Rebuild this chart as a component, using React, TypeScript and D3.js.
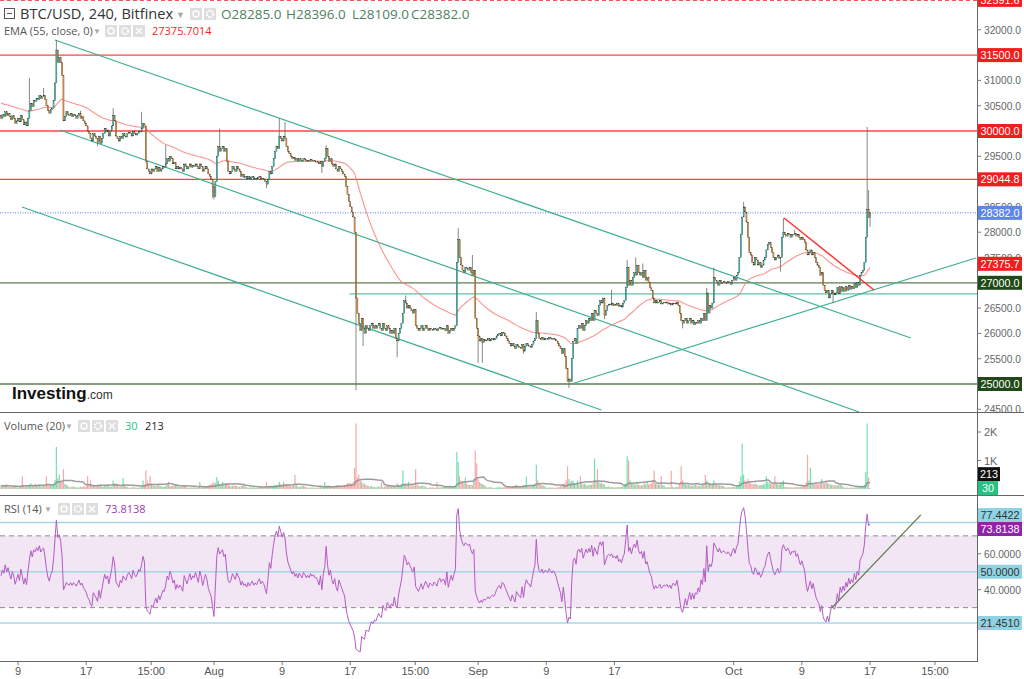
import React from 'react';
import * as d3 from 'd3';

// ---------- DATA (BTC/USD 4h, Bitfinex, 7 Jul – 17 Oct) ----------
// one row per day: closes of the 00,04,08,12,16,20 candles
const closesByDay: number[][] = [
  [30250, 30320, 30280, 30380, 30300, 30350],
  [30280, 30220, 30300, 30250, 30150, 30200],
  [30250, 30180, 30300, 30220, 30120, 30180],
  [30100, 30250, 30400, 30550, 30480, 30600],
  [30580, 30650, 30620, 30700, 30640, 30680],
  [30700, 30620, 30500, 30400, 30350, 30420],
  [30450, 30600, 30950, 31600, 31350, 31450],
  [31350, 31100, 30200, 30280, 30380, 30320],
  [30300, 30350, 30280, 30330, 30300, 30250],
  [30300, 30350, 30250, 30280, 30200, 30150],
  [30100, 30000, 29950, 29850, 29800, 29950],
  [29900, 29850, 29780, 29900, 29750, 29850],
  [29950, 30050, 29980, 30020, 29900, 30000],
  [30100, 30300, 30200, 29900, 29850, 29800],
  [29900, 29850, 29950, 29900, 29880, 29950],
  [29980, 29950, 29900, 30000, 29950, 29920],
  [29950, 30000, 29980, 30050, 30150, 30100],
  [29400, 29250, 29200, 29150, 29250, 29200],
  [29250, 29300, 29200, 29280, 29200, 29250],
  [29300, 29280, 29350, 29450, 29400, 29500],
  [29450, 29350, 29380, 29250, 29300, 29250],
  [29280, 29250, 29200, 29350, 29300, 29250],
  [29300, 29350, 29280, 29320, 29300, 29350],
  [29300, 29250, 29350, 29300, 29200, 29250],
  [29300, 29250, 29150, 29100, 29050, 28900],
  [28700, 29000, 29500, 29700, 29600, 29650],
  [29700, 29600, 29650, 29400, 29200, 29150],
  [29200, 29300, 29250, 29200, 29300, 29250],
  [29200, 29100, 29150, 29080, 29100, 29050],
  [29100, 29050, 29080, 29100, 29050, 29070],
  [29050, 29080, 29100, 29050, 29070, 29050],
  [29000, 28950, 29050, 29200, 29150, 29300],
  [29450, 29600, 29700, 29650, 29900, 29850],
  [29800, 29900, 29850, 29700, 29600, 29550],
  [29500, 29450, 29480, 29420, 29450, 29400],
  [29450, 29420, 29400, 29450, 29430, 29400],
  [29420, 29400, 29430, 29410, 29420, 29400],
  [29400, 29380, 29350, 29400, 29300, 29400],
  [29450, 29650, 29500, 29400, 29450, 29350],
  [29300, 29350, 29250, 29200, 29300, 29250],
  [29200, 29150, 29100, 28900, 28750, 28600],
  [28500, 28400, 28300, 28000, 26700, 26400],
  [26200, 26050, 26300, 26100, 26000, 26150],
  [26100, 26050, 26150, 26200, 26100, 26150],
  [26100, 26150, 26200, 26100, 26050, 26200],
  [26100, 26050, 26150, 26100, 26000, 26050],
  [26000, 26100, 25900, 25850, 26000, 26100],
  [26200, 26400, 26650, 26600, 26500, 26550],
  [26500, 26450, 26400, 26480, 26150, 26100],
  [26050, 26100, 26150, 26050, 26100, 26150],
  [26100, 26050, 26100, 26080, 26060, 26100],
  [26080, 26050, 26100, 26120, 26080, 26100],
  [26100, 26050, 26150, 26000, 26050, 26100],
  [26050, 26100, 26150, 27400, 27850, 27500],
  [27350, 27250, 27200, 27300, 27280, 27250],
  [27300, 27200, 27150, 27250, 26300, 26100],
  [25950, 25850, 25900, 25820, 25880, 25850],
  [25870, 25900, 25850, 25880, 25900, 25870],
  [25900, 25950, 25980, 26000, 25950, 26020],
  [26000, 25950, 25900, 25850, 25800, 25750],
  [25800, 25750, 25700, 25780, 25750, 25720],
  [25700, 25780, 25650, 25750, 25800, 25760],
  [25750, 25720, 25780, 25850, 25900, 26250],
  [26000, 25900, 25880, 25920, 25870, 25900],
  [25900, 25880, 25920, 25900, 25880, 25900],
  [25880, 25850, 25800, 25750, 25700, 25600],
  [25700, 25550, 25300, 25050, 25100, 25050],
  [25500, 25850, 25900, 25800, 26100, 26150],
  [26100, 26200, 26050, 26150, 26250, 26200],
  [26300, 26250, 26400, 26250, 26450, 26400],
  [26350, 26550, 26650, 26600, 26700, 26350],
  [26450, 26550, 26580, 26560, 26600, 26550],
  [26580, 26550, 26600, 26530, 26560, 26520],
  [26600, 26650, 26900, 27300, 26950, 27050],
  [26950, 27100, 27200, 27150, 27350, 27200],
  [27150, 27200, 27100, 27250, 27050, 27100],
  [27000, 26900, 26850, 26700, 26600, 26650],
  [26600, 26620, 26650, 26580, 26600, 26620],
  [26600, 26620, 26580, 26600, 26560, 26600],
  [26600, 26580, 26620, 26550, 26400, 26250],
  [26200, 26250, 26300, 26200, 26250, 26300],
  [26200, 26250, 26170, 26220, 26200, 26250],
  [26200, 26300, 26250, 26400, 26250, 26800],
  [26400, 26550, 26500, 26600, 27100, 27050],
  [27000, 26950, 27050, 26980, 27000, 27020],
  [27000, 26980, 27020, 27000, 26970, 27050],
  [27100, 27050, 27150, 27200, 27500, 27950],
  [28300, 28500, 28400, 28200, 27900, 27600],
  [27550, 27400, 27350, 27500, 27450, 27350],
  [27400, 27300, 27350, 27450, 27500, 27650],
  [27750, 27800, 27700, 27600, 27500, 27450],
  [27500, 27550, 27480, 27500, 27900, 28000],
  [27950, 27920, 27980, 27950, 27900, 27960],
  [27950, 27980, 27920, 27960, 27900, 27850],
  [27900, 27850, 27800, 27650, 27550, 27600],
  [27650, 27550, 27600, 27500, 27400, 27350],
  [27300, 27150, 27200, 26950, 26850, 26800],
  [26850, 26700, 26780, 26850, 26800, 26760],
  [26800, 26900, 26780, 26920, 26830, 26900],
  [26830, 26920, 26850, 26950, 26870, 26920],
  [26880, 26980, 26900, 27000, 26950, 27150],
  [27200, 27250, 27400, 27900, 28450, 28285],
  [28382],
];
const firstOpen = 30300;

// notable wicks: [candle index, price]
const wickHighs: [number, number][] = [
  [20, 31050], [30, 30850], [39, 31800], [56, 30400], [79, 30450], [99, 30380],
  [116, 29720], [154, 30050], [196, 30250], [200, 30180], [229, 29720],
  [285, 26750], [322, 28080], [332, 27550], [377, 26420], [430, 26860],
  [441, 27450], [447, 27500], [452, 27380], [497, 26900], [502, 27300],
  [523, 28600], [551, 28280], [559, 28050], [610, 30080], [611, 28830], [612, 28396],
];
const wickLows: [number, number][] = [
  [68, 29700], [149, 28680], [150, 28650], [187, 28870], [226, 29170],
  [250, 24880], [255, 25750], [279, 25530], [336, 25420], [339, 25420],
  [368, 25600], [400, 24920], [425, 26280], [480, 26100], [549, 27220],
  [586, 26600], [612, 28109],
];

const volumesByDay: number[][] = [
  [120, 90, 140, 110, 160, 80], [70, 60, 90, 80, 110, 60], [50, 70, 90, 450, 120, 80],
  [90, 110, 150, 200, 140, 100], [180, 120, 130, 160, 110, 90], [100, 130, 450, 170, 140, 120],
  [150, 180, 320, 1480, 380, 500], [260, 240, 700, 180, 150, 120], [70, 60, 80, 90, 70, 60],
  [50, 60, 80, 70, 90, 80], [120, 450, 160, 300, 140, 110], [100, 90, 150, 120, 160, 90],
  [80, 110, 130, 140, 110, 70], [90, 300, 180, 200, 150, 90], [80, 100, 380, 130, 110, 70],
  [50, 40, 60, 70, 60, 50], [40, 50, 60, 80, 300, 150], [650, 300, 200, 450, 180, 120],
  [110, 90, 140, 120, 130, 80], [90, 80, 110, 150, 250, 100], [100, 120, 110, 160, 130, 80],
  [70, 80, 90, 140, 100, 60], [40, 50, 60, 50, 70, 50], [40, 50, 250, 60, 80, 60],
  [90, 100, 120, 150, 170, 200], [250, 200, 420, 300, 180, 140], [250, 160, 140, 200, 180, 110],
  [90, 100, 130, 120, 110, 80], [80, 90, 120, 140, 100, 70], [40, 50, 60, 50, 60, 40],
  [40, 50, 60, 70, 50, 60], [80, 250, 90, 110, 120, 100], [130, 150, 140, 160, 250, 180],
  [160, 250, 150, 180, 140, 120], [110, 100, 120, 500, 150, 90], [80, 90, 100, 110, 90, 70],
  [40, 50, 50, 60, 50, 40], [40, 50, 60, 70, 90, 60], [250, 120, 110, 130, 100, 80],
  [90, 100, 120, 140, 110, 90], [100, 120, 140, 160, 200, 220], [200, 180, 250, 750, 2300, 400],
  [500, 300, 250, 200, 180, 150], [120, 100, 90, 110, 80, 70], [60, 70, 80, 90, 250, 60],
  [90, 100, 120, 110, 130, 90], [100, 110, 90, 200, 150, 120], [180, 650, 200, 170, 150, 250],
  [140, 120, 150, 110, 700, 200], [120, 100, 110, 130, 90, 80], [50, 40, 60, 50, 60, 40],
  [40, 250, 60, 50, 70, 60], [80, 90, 110, 100, 120, 90], [100, 90, 120, 1300, 950, 450],
  [300, 250, 200, 400, 180, 150], [140, 150, 130, 350, 1350, 900], [350, 250, 200, 180, 150, 120],
  [60, 50, 70, 60, 50, 40], [40, 50, 60, 70, 60, 50], [60, 70, 80, 90, 100, 80],
  [100, 110, 130, 150, 120, 90], [100, 120, 150, 130, 440, 110], [100, 90, 110, 140, 180, 850],
  [300, 200, 150, 130, 120, 100], [50, 40, 60, 50, 40, 50], [40, 50, 60, 70, 90, 150],
  [160, 200, 300, 800, 350, 250], [300, 280, 200, 180, 300, 150], [450, 200, 160, 180, 150, 120],
  [140, 160, 150, 200, 1070, 250], [700, 250, 200, 220, 180, 150], [80, 70, 90, 60, 70, 60],
  [50, 60, 70, 60, 80, 70], [100, 120, 200, 1150, 1000, 300], [200, 180, 160, 150, 250, 140],
  [130, 120, 140, 200, 160, 250], [160, 180, 200, 300, 640, 200], [180, 150, 160, 450, 130, 110],
  [60, 50, 70, 60, 640, 80], [50, 60, 70, 90, 200, 800], [300, 180, 160, 140, 150, 120],
  [120, 110, 130, 150, 120, 100], [100, 120, 140, 160, 500, 300], [200, 180, 160, 150, 300, 200],
  [150, 140, 130, 120, 110, 100], [60, 50, 70, 60, 50, 80], [70, 80, 90, 120, 250, 450],
  [1600, 500, 300, 250, 350, 280], [200, 180, 160, 200, 170, 140], [130, 140, 150, 160, 180, 450],
  [250, 200, 180, 160, 170, 450], [180, 160, 150, 170, 250, 300], [80, 70, 60, 70, 60, 50],
  [50, 60, 70, 60, 80, 70], [100, 120, 140, 250, 1200, 300], [750, 200, 180, 160, 200, 150],
  [180, 200, 350, 220, 200, 250], [200, 180, 160, 150, 140, 120], [130, 120, 140, 160, 130, 100],
  [40, 50, 50, 40, 40, 50], [40, 50, 60, 60, 70, 80], [90, 110, 150, 600, 2300, 400],
  [30],
];

const emaLength = 55;
const emaSeed = 30560;
const rsiLength = 14;
const rsiSeedGain = 40;
const rsiSeedLoss = 40;
const volSmaLength = 20;

// horizontal levels
const redLevels = [31500, 30000, 29044.8];
const greenLevels = [27000, 25000];
const topDashedLevel = 32591.6;
const lastPrice = 28382;
const emaLast = 27375.7;
const tealLevel = { from: 245.5, price: 26780 };
// drawings: [candle index, price]
const channelLines: [number, number][][] = [
  [[38, 31798], [640.8, 25909]],
  [[41.5, 30020], [604.3, 24447]],
  [[14.8, 28498], [422.8, 24486]],
];
const supportLine: [number, number][] = [[401.7, 25000], [686.5, 27490]];
const redTrend: [number, number][] = [[551.5, 28281], [614.8, 26858]];
const rsiTrend: [number, number][] = [[585.3, 30], [647.8, 81.7]];

const priceTicks = d3.range(24500, 32001, 500);
const volTicks: [number, string][] = [[2000, '2K'], [1000, '1K']];
const volLast = 30;
const volSmaLast = 213;
const rsiLevels = { upper: 77.4422, mid: 50, lower: 21.451, ob: 70, os: 30 };
const rsiTicks = [60, 40];
const rsiLast = 73.8138;
// time axis labels: [candle index, text]
const timeLabels: [number, string][] = [
  [12, '9'], [60, '17'], [105.75, '15:00'], [150, 'Aug'], [198, '9'], [246, '17'],
  [291.75, '15:00'], [336, 'Sep'], [384, '9'], [432, '17'], [516, 'Oct'], [564, '9'],
  [612, '17'], [657.75, '15:00'],
];

// ---------- CHART ----------
const W = 1024;
const H = 679;
const R = 977; // right edge of panes
const FONT = "'Liberation Sans', Arial, sans-serif";
const UI = "'Open Sans', 'Noto Sans', sans-serif";
const AX = 10.2;

const Icons = ({ x0, y0, n }: { x0: number; y0: number; n: number }) => {
  const items = [];
  for (let k = 0; k < n; k++) {
    const x = x0 + k * 14;
    items.push(
      <g key={k}>
        <rect x={x} y={y0} width={12} height={12} fill="#dedede" />
        {k === 0 && <circle cx={x + 6} cy={y0 + 6} r={3} fill="none" stroke="#fff" strokeWidth={1.4} />}
        {k === 1 && <circle cx={x + 6} cy={y0 + 6} r={3.2} fill="none" stroke="#fff" strokeWidth={2} strokeDasharray="1.6,1" />}
        {k === 2 && (
          <path d={`M${x + 3},${y0 + 3}L${x + 9},${y0 + 9}M${x + 9},${y0 + 3}L${x + 3},${y0 + 9}`} stroke="#fff" strokeWidth={1.4} />
        )}
      </g>
    );
  }
  return <g>{items}</g>;
};

const Tag = ({ y, text, bg, fg = '#fff', w = 44 }: { y: number; text: string; bg: string; fg?: string; w?: number }) => (
  <g>
    <rect x={R + 1} y={y - 7} width={w} height={14} fill={bg} />
    <text x={R + 1 + w / 2} y={y + 4} textAnchor="middle" fontFamily={FONT} fontSize={AX + 0.6} fill={fg}>{text}</text>
  </g>
);

export default function App() {
  const closes = closesByDay.flat();
  const volumes = volumesByDay.flat();
  const n = closes.length;
  const opens = closes.map((c, i) => (i === 0 ? firstOpen : closes[i - 1]));
  const hiMap = new Map(wickHighs);
  const loMap = new Map(wickLows);
  const candles = closes.map((c, i) => {
    const o = opens[i];
    const h = Math.max(o, c, hiMap.has(i) ? (hiMap.get(i) as number) : -Infinity);
    const l = Math.min(o, c, loMap.has(i) ? (loMap.get(i) as number) : Infinity);
    return { i, o, h, l, c, up: c >= o };
  });

  const alpha = 2 / (emaLength + 1);
  let e = emaSeed;
  const ema = closes.map((c) => (e = e + alpha * (c - e)));

  let ag = rsiSeedGain;
  let al = rsiSeedLoss;
  const rsi = closes.map((c, i) => {
    const ch = c - opens[i];
    ag = (ag * (rsiLength - 1) + Math.max(ch, 0)) / rsiLength;
    al = (al * (rsiLength - 1) + Math.max(-ch, 0)) / rsiLength;
    return 100 - 100 / (1 + ag / al);
  });
  const vsma = volumes.map((_, i) => d3.mean(volumes.slice(Math.max(0, i - volSmaLength + 1), i + 1)) as number);

  const x = d3.scaleLinear().domain([0, n - 1]).range([1, 870]);
  const yP = d3.scaleLinear().domain([25000, 30000]).range([384, 131]);
  const yV = d3.scaleLinear().domain([0, 2000]).range([489, 432]);
  const yR = d3.scaleLinear().domain([rsiLevels.lower, rsiLevels.upper]).range([623, 522.5]);

  const emaPath = d3.line<number>().x((_, i) => x(i)).y((v) => yP(v))(ema) || '';
  const rsiPath = d3.line<number>().x((_, i) => x(i)).y((v) => yR(v))(rsi) || '';
  const vsmaPath = d3.line<number>().x((_, i) => x(i)).y((v) => yV(v))(vsma) || '';
  const seg = (pts: [number, number][], ys: (v: number) => number) =>
    `M${x(pts[0][0])},${ys(pts[0][1])}L${x(pts[1][0])},${ys(pts[1][1])}`;

  const bw = 1.15;
  const upFill = '#35c2b3';
  const dnFill = '#ec8a2c';
  // tick labels fully covered by a price tag are not drawn
  const tagPrices = [topDashedLevel, ...redLevels, ...greenLevels, lastPrice, emaLast];
  const coveredTick = (p: number) => tagPrices.some((t) => Math.abs(yP(t) - yP(p)) < 5);

  // label collision avoidance like the platform does
  const volLastY = yV(volLast);
  const volSmaY = Math.min(yV(volSmaLast), volLastY - 14);
  const rsiLastY = yR(rsiLast);
  const rsiUpperY = Math.min(yR(rsiLevels.upper), rsiLastY - 14);

  return (
    <svg width={W} height={H} style={{ position: 'absolute', left: 0, top: 0, background: '#fff' }}>
      <defs>
        <clipPath id="cMain"><rect x={0} y={0} width={R} height={412} /></clipPath>
        <clipPath id="cVol"><rect x={0} y={413} width={R} height={82} /></clipPath>
        <clipPath id="cRsi"><rect x={0} y={496} width={R} height={166} /></clipPath>
        <clipPath id="cAxis"><rect x={R} y={0} width={W - R} height={412} /></clipPath>
      </defs>
      <rect x={0} y={0} width={W} height={H} fill="#fff" />

      {/* ===== main pane ===== */}
      <g clipPath="url(#cMain)">
        <line x1={0} x2={R} y1={yP(topDashedLevel)} y2={yP(topDashedLevel)} stroke="#f21d1d" strokeWidth={1.6} strokeDasharray="4,3" />
        {redLevels.map((p) => (
          <line key={p} x1={0} x2={R} y1={yP(p)} y2={yP(p)} stroke="#f44" strokeWidth={1.3} />
        ))}
        {greenLevels.map((p) => (
          <line key={p} x1={0} x2={R} y1={yP(p)} y2={yP(p)} stroke="#5f7d52" strokeWidth={1.3} />
        ))}
        <line x1={x(tealLevel.from)} x2={R} y1={yP(tealLevel.price)} y2={yP(tealLevel.price)} stroke="#5cc0ac" strokeWidth={1.3} />
        <line x1={0} x2={R} y1={yP(lastPrice)} y2={yP(lastPrice)} stroke="#5a7be0" strokeWidth={1} strokeDasharray="1,1.5" />
        {channelLines.map((l, k) => (
          <path key={k} d={seg(l, yP)} stroke="#3fae95" strokeWidth={1.2} fill="none" />
        ))}
        <path d={seg(supportLine, yP)} stroke="#3fae95" strokeWidth={1.2} fill="none" />
        <path d={emaPath} fill="none" stroke="#f7817c" strokeWidth={1.1} opacity={0.85} />
        {candles.map((d) => (
          <line key={'w' + d.i} x1={x(d.i)} x2={x(d.i)} y1={yP(d.h)} y2={yP(d.l)} stroke="#5e6e62" strokeWidth={0.8} />
        ))}
        {candles.map((d) => {
          const y0 = yP(Math.max(d.o, d.c));
          const y1 = yP(Math.min(d.o, d.c));
          return (
            <rect key={'b' + d.i} x={x(d.i) - bw / 2} y={y0} width={bw} height={Math.max(0.9, y1 - y0)}
              fill={d.up ? upFill : dnFill} stroke="#3b3b3b" strokeWidth={0.25} />
          );
        })}
        <path d={seg(redTrend, yP)} stroke="#f33" strokeWidth={1.5} fill="none" />
        <text x={12} y={399} fontFamily="'Liberation Sans', Arial, sans-serif" fontWeight="bold" fontSize={17} fill="#111">
          Investing<tspan fontSize={12} fontWeight="normal" fill="#333">.com</tspan>
        </text>
      </g>

      {/* header legends */}
      <rect x={4.5} y={8.5} width={10} height={10} fill="none" stroke="#555" />
      <line x1={7} x2={12} y1={13.5} y2={13.5} stroke="#555" />
      <text x={20} y={19} fontFamily={UI} fontSize={14.6} fill="#333">BTC/USD, 240, Bitfinex</text>
      <text x={176} y={18} fontFamily={UI} fontSize={9} fill="#aaa">▼</text>
      <Icons x0={190} y0={8} n={2} />
      <text x={221} y={19} fontFamily={UI} fontSize={13.5} fill="#4f7f62">O28285.0</text>
      <text x={286} y={19} fontFamily={UI} fontSize={13.5} fill="#4f7f62">H28396.0</text>
      <text x={352} y={19} fontFamily={UI} fontSize={13.5} fill="#4f7f62">L28109.0</text>
      <text x={411} y={19} fontFamily={UI} fontSize={13.5} fill="#4f7f62">C28382.0</text>
      <text x={4} y={35} fontFamily={UI} fontSize={11} fill="#555">EMA (55, close, 0)</text>
      <text x={93} y={34} fontFamily={UI} fontSize={8} fill="#aaa">▼</text>
      <Icons x0={105} y0={25} n={3} />
      <text x={152} y={35} fontFamily={UI} fontSize={11} fill="#f22">27375.7014</text>

      {/* ===== volume pane ===== */}
      <g clipPath="url(#cVol)">
        {volumes.map((v, i) => (
          <rect key={i} x={x(i) - 0.6} y={yV(v)} width={1.2} height={yV(0) - yV(v)}
            fill={candles[i].up ? '#5fd8a2' : '#f59a98'} opacity={0.85} />
        ))}
        <path d={vsmaPath} fill="none" stroke="#8c8c8c" strokeWidth={1.5} opacity={0.85} />
      </g>
      <text x={4} y={430} fontFamily={UI} fontSize={11} fill="#555">Volume (20)</text>
      <text x={65} y={429} fontFamily={UI} fontSize={8} fill="#aaa">▼</text>
      <Icons x0={78} y0={420} n={3} />
      <text x={125} y={430} fontFamily={UI} fontSize={11} fill="#26c281">{volLast}</text>
      <text x={145} y={430} fontFamily={UI} fontSize={11} fill="#222">{volSmaLast}</text>

      {/* ===== RSI pane ===== */}
      <g clipPath="url(#cRsi)">
        <rect x={0} y={yR(rsiLevels.ob)} width={R} height={yR(rsiLevels.os) - yR(rsiLevels.ob)} fill="#f2e5f4" />
        <line x1={0} x2={R} y1={yR(rsiLevels.ob)} y2={yR(rsiLevels.ob)} stroke="#8a8a8a" strokeDasharray="5,4" />
        <line x1={0} x2={R} y1={yR(rsiLevels.os)} y2={yR(rsiLevels.os)} stroke="#8a8a8a" strokeDasharray="5,4" />
        {[rsiLevels.upper, rsiLevels.mid, rsiLevels.lower].map((v) => (
          <line key={v} x1={0} x2={R} y1={yR(v)} y2={yR(v)} stroke="#a5d8e6" strokeWidth={1.4} />
        ))}
        <path d={rsiPath} fill="none" stroke="#b35cc2" strokeWidth={1} />
        <path d={seg(rsiTrend, yR)} stroke="#5e7b4c" strokeWidth={1.3} fill="none" />
      </g>
      <text x={4} y={513} fontFamily={UI} fontSize={11} fill="#555">RSI (14)</text>
      <text x={44} y={512} fontFamily={UI} fontSize={8} fill="#aaa">▼</text>
      <Icons x0={58} y0={503} n={3} />
      <text x={105} y={513} fontFamily={UI} fontSize={11} fill="#a040b0">{rsiLast.toFixed(4)}</text>

      {/* ===== frame ===== */}
      <line x1={0} x2={W} y1={412.5} y2={412.5} stroke="#666" />
      <line x1={0} x2={W} y1={495.5} y2={495.5} stroke="#666" />
      <line x1={R + 0.5} x2={R + 0.5} y1={0} y2={662} stroke="#666" />
      <line x1={0} x2={R + 0.5} y1={661.5} y2={661.5} stroke="#666" />

      {/* price axis */}
      <g clipPath="url(#cAxis)">
        {priceTicks.map((p) => (
          <g key={p}>
            <line x1={R} x2={R + 4} y1={yP(p)} y2={yP(p)} stroke="#777" />
            {!coveredTick(p) && (
              <text x={R + 7} y={yP(p) + 4} fontFamily={FONT} fontSize={AX} fill="#666">{p.toFixed(1)}</text>
            )}
          </g>
        ))}
        <Tag y={yP(topDashedLevel)} text={topDashedLevel.toFixed(1)} bg="#f21d1d" />
        {redLevels.map((p) => <Tag key={p} y={yP(p)} text={p.toFixed(1)} bg="#f21d1d" />)}
        <Tag y={yP(lastPrice)} text={lastPrice.toFixed(1)} bg="#5d86ea" />
        <Tag y={yP(emaLast)} text={emaLast.toFixed(1)} bg="#f21d1d" />
        {greenLevels.map((p) => <Tag key={p} y={yP(p)} text={p.toFixed(1)} bg="#1f4a17" />)}
      </g>

      {/* volume axis */}
      {volTicks.map(([v, t]) => (
        <g key={t}>
          <line x1={R} x2={R + 4} y1={yV(v)} y2={yV(v)} stroke="#777" />
          <text x={R + 7} y={yV(v) + 4} fontFamily={FONT} fontSize={AX + 0.8} fill="#666">{t}</text>
        </g>
      ))}
      <Tag y={volSmaY} text={String(volSmaLast)} bg="#111" w={22} />
      <Tag y={volLastY} text={String(volLast)} bg="#26c281" w={20} />

      {/* RSI axis */}
      {rsiTicks.map((v) => (
        <g key={v}>
          <line x1={R} x2={R + 4} y1={yR(v)} y2={yR(v)} stroke="#777" />
          <text x={R + 7} y={yR(v) + 4} fontFamily={FONT} fontSize={AX} fill="#666">{v.toFixed(4)}</text>
        </g>
      ))}
      <Tag y={rsiUpperY} text={rsiLevels.upper.toFixed(4)} bg="#8fd3e2" fg="#333" />
      <Tag y={rsiLastY} text={rsiLast.toFixed(4)} bg="#8e24aa" />
      <Tag y={yR(rsiLevels.mid)} text={rsiLevels.mid.toFixed(4)} bg="#8fd3e2" fg="#333" />
      <Tag y={yR(rsiLevels.lower)} text={rsiLevels.lower.toFixed(4)} bg="#8fd3e2" fg="#333" />

      {/* time axis */}
      {timeLabels.map(([i, t]) => (
        <g key={i}>
          <line x1={x(i)} x2={x(i)} y1={662} y2={665} stroke="#777" />
          <text x={x(i)} y={675} textAnchor="middle" fontFamily="'Liberation Sans Narrow', 'Liberation Sans', Arial, sans-serif" fontSize={11} fill="#555">{t}</text>
        </g>
      ))}
    </svg>
  );
}
